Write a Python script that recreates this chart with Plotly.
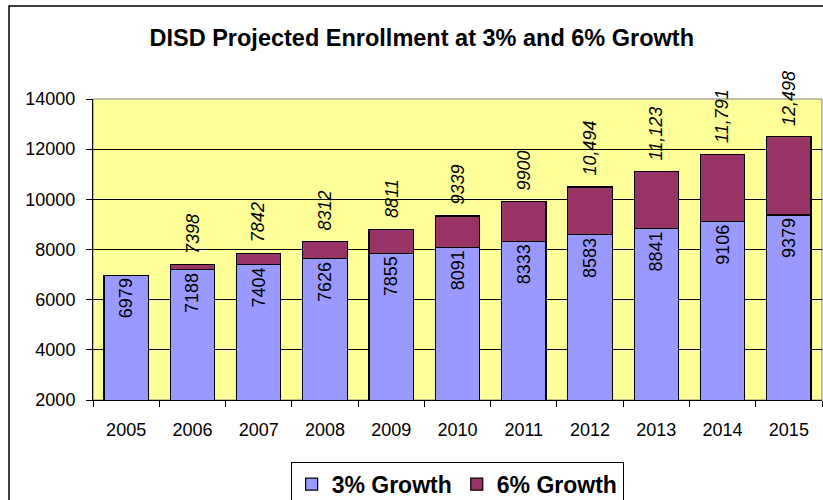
import plotly.graph_objects as go

years = ["2005", "2006", "2007", "2008", "2009", "2010", "2011", "2012", "2013", "2014", "2015"]
growth3 = [6979, 7188, 7404, 7626, 7855, 8091, 8333, 8583, 8841, 9106, 9379]
growth6_total = [6979, 7398, 7842, 8312, 8811, 9339, 9900, 10494, 11123, 11791, 12498]
total_labels = ["", "7398", "7842", "8312", "8811", "9339", "9900", "10,494", "11,123", "11,791", "12,498"]
yticks = [2000, 4000, 6000, 8000, 10000, 12000, 14000]

extra6 = [t - b for t, b in zip(growth6_total, growth3)]

FONT = "Arial, Liberation Sans, sans-serif"

fig = go.Figure()
fig.add_trace(go.Bar(
    x=years, y=growth3, name="3% Growth",
    marker=dict(color="#9999FF", line=dict(color="black", width=1.2)),
    text=[str(v) for v in growth3], textposition="inside", insidetextanchor="end",
    textangle=-90, insidetextfont=dict(family=FONT, size=18, color="black"),
    constraintext="none",
))
fig.add_trace(go.Bar(
    x=years, y=extra6, name="6% Growth",
    marker=dict(color="#993366", line=dict(color="black", width=1.2)),
    textposition="none",
))

# total labels above each stack (category index positions)
for i, (tot, lab) in enumerate(zip(growth6_total, total_labels)):
    if lab:
        fig.add_annotation(x=i, y=tot, xref="x", yref="y", text=lab, showarrow=False,
                           textangle=-90, xanchor="center", yanchor="bottom", yshift=9,
                           font=dict(family=FONT, size=18, color="black", style="italic"))

fig.update_layout(
    width=823, height=500,
    barmode="stack", bargap=0.33,
    paper_bgcolor="white", plot_bgcolor="#FFFF99",
    margin=dict(l=93, r=1, t=99, b=100, autoexpand=False),
    font=dict(family=FONT, size=18, color="black"),
    title=dict(text="<b>DISD Projected Enrollment at 3% and 6% Growth</b>",
               x=0.5125, xanchor="center", y=0.925, yanchor="middle",
               font=dict(family=FONT, size=23.5, color="black")),
    showlegend=True,
    legend=dict(orientation="h", x=0.4995, xanchor="center", y=-0.205, yanchor="top",
                bordercolor="black", borderwidth=1, bgcolor="white",
                font=dict(family=FONT, size=23, color="black", weight="bold"),
                traceorder="normal", itemwidth=30),
    xaxis=dict(type="category", range=[-0.5, len(years) - 0.5], tickson="boundaries",
               ticks="outside", ticklen=6,
               tickcolor="black", showline=True, linecolor="black", linewidth=1,
               showgrid=False, ticklabelstandoff=13),
    yaxis=dict(range=[2000, 14000], tickvals=yticks, tickformat="d", ticks="outside", ticklen=6,
               tickcolor="black", showline=True, linecolor="black", linewidth=1,
               showgrid=True, gridcolor="black", gridwidth=1, zeroline=False,
               ticklabelstandoff=7),
)

# plot area border (grey) and outer chart border
fig.add_shape(type="rect", xref="paper", yref="paper", x0=0, x1=1, y0=0, y1=1,
              line=dict(color="#808080", width=1), layer="below")
fig.add_shape(type="rect", xref="paper", yref="paper", x0=-0.1152, x1=1.05, y0=-0.45, y1=1.309,
              line=dict(color="black", width=1.5), layer="above")

fig.write_html("out.html", config={"displayModeBar": False},
               post_script="document.body.style.margin='0';")
